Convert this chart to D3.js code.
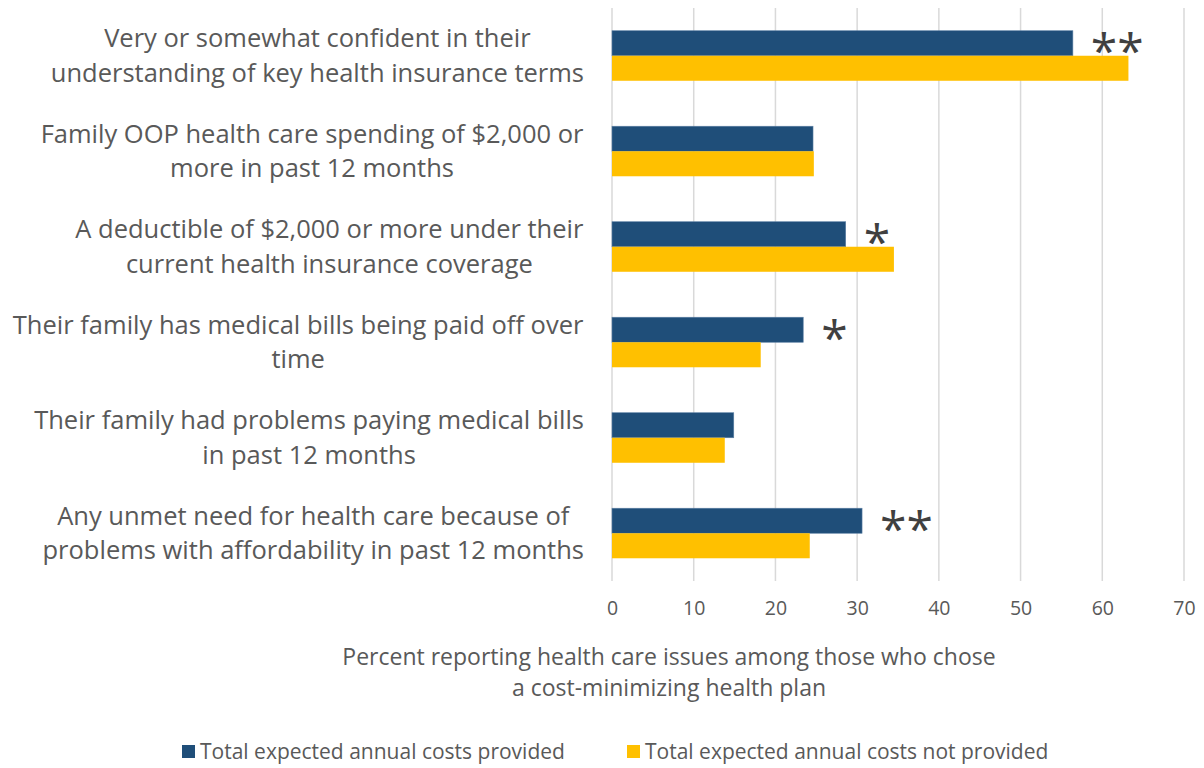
<!DOCTYPE html>
<html>
<head>
<meta charset="utf-8">
<script src="https://cdn.jsdelivr.net/npm/d3@7"></script>
<style>
  html, body { margin: 0; padding: 0; background: #fff; }
  svg { display: block; }
  text { font-family: "Open Sans", sans-serif; }
</style>
</head>
<body>
<svg id="chart" width="1204" height="768"></svg>
<script>
// ---- data ----
const categories = [
  "Very or somewhat confident in their\nunderstanding of key health insurance terms",
  "Family OOP health care spending of $2,000 or\nmore in past 12 months",
  "A deductible of $2,000 or more under their\ncurrent health insurance coverage",
  "Their family has medical bills being paid off over\ntime",
  "Their family had problems paying medical bills\nin past 12 months",
  "Any unmet need for health care because of\nproblems with affordability in past 12 months"
];
const seriesNames = ["Total expected annual costs provided", "Total expected annual costs not provided"];
const providedValues = [56.4, 24.6, 28.6, 23.4, 14.9, 30.6];
const notProvidedValues = [63.2, 24.7, 34.5, 18.2, 13.8, 24.2];
const significance = ["**", "", "*", "*", "", "**"];
const xTicks = [0, 10, 20, 30, 40, 50, 60, 70];
const axisTitle = ["Percent reporting health care issues among those who chose", "a cost-minimizing health plan"];
const colors = ["#1F4E79", "#FFC000"];

// ---- layout ----
const svg = d3.select("#chart");
const plot = { left: 612, right: 1184, top: 8, bottom: 581 };

const x = d3.scaleLinear().domain([0, 70]).range([plot.left, plot.right]);
const y = d3.scaleBand().domain(d3.range(categories.length))
  .range([plot.top, plot.bottom]).paddingInner(0.476).paddingOuter(0.238);
const ySub = d3.scaleBand().domain([0, 1]).range([0, y.bandwidth()]);

// gridlines
const grid = svg.append("g");
grid.selectAll("line").data(xTicks).join("line")
  .attr("x1", d => x(d)).attr("x2", d => x(d))
  .attr("y1", plot.top).attr("y2", plot.bottom)
  .attr("stroke", "#d9d9d9").attr("stroke-width", 1.5);

// x axis tick labels
const xAxis = d3.axisBottom(x).tickValues(xTicks).tickSize(0).tickPadding(0);
const xg = svg.append("g").attr("transform", `translate(0,${plot.bottom})`).call(xAxis);
xg.select(".domain").remove();
xg.selectAll("text")
  .attr("y", 27).attr("dy", "0.35em")
  .attr("fill", "#595959").style("font-size", "19.5px").style("font-family", "'Open Sans', sans-serif");

// bars
const data = categories.map((c, i) => ({ i, vals: [providedValues[i], notProvidedValues[i]] }));
const groups = svg.append("g").selectAll("g").data(data).join("g")
  .attr("transform", d => `translate(0,${y(d.i)})`);
groups.selectAll("rect").data(d => d.vals.map((v, k) => ({ v, k }))).join("rect")
  .attr("x", x(0))
  .attr("y", d => ySub(d.k))
  .attr("width", d => x(d.v) - x(0))
  .attr("height", ySub.bandwidth())
  .attr("fill", d => colors[d.k])
  .attr("stroke", d => d.k === 0 ? "#5b7fa3" : "none")
  .attr("stroke-width", 0.6);

// significance markers
svg.append("g").selectAll("text").data(data.filter(d => significance[d.i])).join("text")
  .attr("x", d => x(providedValues[d.i]) + 18)
  .attr("y", d => y(d.i) + ySub(0) + ySub.bandwidth() / 2 + 25)
  .attr("fill", "#404040")
  .style("font-size", "48px")
  .text(d => significance[d.i]);

// category labels
const lab = svg.append("g").selectAll("text").data(data).join("text")
  .attr("text-anchor", "middle")
  .attr("fill", "#595959")
  .style("font-size", "25.5px");
lab.each(function(d) {
  const lines = categories[d.i].split("\n");
  const cy = y(d.i) + y.bandwidth() / 2;
  const t = d3.select(this);
  const lh = 34.5;
  lines.forEach((ln, k) => {
    t.append("tspan")
      .attr("x", 0)
      .attr("y", cy + (k - (lines.length - 1) / 2) * lh)
      .attr("dy", "0.35em")
      .text(ln);
  });
});
// right-align the label blocks while centering lines within each block
lab.each(function() {
  const bb = this.getBBox();
  const shift = 584 - (bb.x + bb.width);
  d3.select(this).attr("transform", `translate(${shift},0)`);
});

// axis title
svg.append("g").selectAll("text").data(axisTitle).join("text")
  .attr("x", 669).attr("y", (d, k) => 657 + k * 31).attr("dy", "0.35em")
  .attr("text-anchor", "middle").attr("fill", "#595959")
  .style("font-size", "23px")
  .text(d => d);

// legend
const legendX = [182, 627];
const leg = svg.append("g").selectAll("g").data(seriesNames).join("g")
  .attr("transform", (d, k) => `translate(${legendX[k]},752)`);
leg.append("rect").attr("x", 0).attr("y", -7).attr("width", 13).attr("height", 13)
  .attr("fill", (d, k) => colors[k]);
leg.append("text").attr("x", 18).attr("y", 0).attr("dy", "0.35em")
  .attr("fill", "#595959").style("font-size", "21px").text(d => d);
</script>
</body>
</html>
